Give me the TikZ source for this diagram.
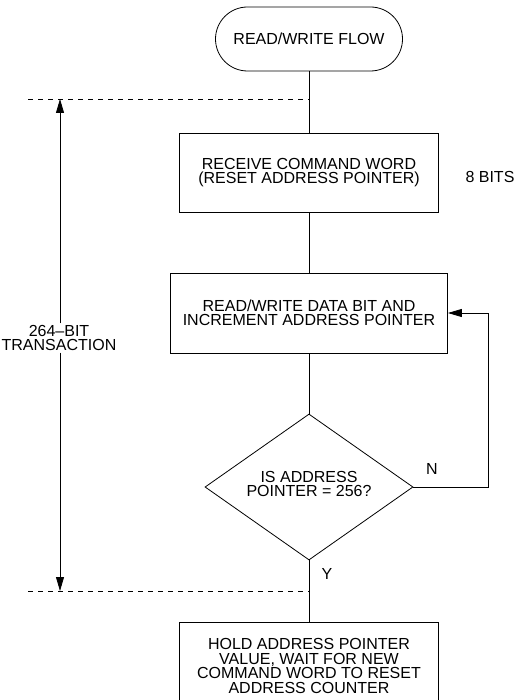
\documentclass[tikz,border=0pt]{standalone}
\usepackage{fontspec}
\setmainfont{Liberation Sans}
\usetikzlibrary{shapes.geometric,arrows.meta}
\begin{document}
\begin{tikzpicture}[x=1pt,y=-1pt,
  every node/.style={font=\fontsize{16}{14.5}\selectfont, align=center},
  line/.style={line width=0.8pt},
  box/.style={draw, line width=0.8pt, inner sep=0pt},
  term/.style={draw, line width=0.8pt, rounded corners=32pt, minimum width=187pt, minimum height=64pt, inner sep=0pt},
  dec/.style={draw, diamond, line width=0.8pt, aspect=1.42, minimum width=208pt, minimum height=146pt, inner sep=0pt},
  dashline/.style={line width=0.8pt, dash pattern=on 5pt off 5pt},
  arr/.style={line width=0.8pt, -{Triangle[length=14pt,width=8pt]}}
]
\useasboundingbox (0,0) rectangle (516,700);
\node[term] (t) at (309,39) {READ/WRITE FLOW};
\node[box, minimum width=259pt, minimum height=79pt] (b1) at (309,172.5) {RECEIVE COMMAND WORD\\(RESET ADDRESS POINTER)};
\node[anchor=west] (bits) at (462,177) {8 BITS};
\node[box, minimum width=277pt, minimum height=80pt] (b2) at (309,313) {READ/WRITE DATA BIT AND\\INCREMENT ADDRESS POINTER};
\node[dec] (d) at (309,487) {};
\node (dt) at (309,484) {IS ADDRESS\\POINTER = 256?};
\node[box, minimum width=259pt, minimum height=88pt] (b3) at (309,666) {HOLD ADDRESS POINTER\\VALUE, WAIT FOR NEW\\COMMAND WORD TO RESET\\ADDRESS COUNTER};
\node (n) at (432,469) {N};
\node (y) at (327,574) {Y};
\node[inner sep=1.5pt] (trans) at (59,338) {264--BIT\\TRANSACTION};
\coordinate (dl1) at (28,99);
\coordinate (dr1) at (309,99);
\coordinate (dl2) at (28,591);
\coordinate (dr2) at (309,591);
\coordinate (atop) at (60,99);
\coordinate (abot) at (60,591);
\coordinate (fb) at (488,0);
\draw[line] (t.south) -- (b1.north);
\draw[line] (b1.south) -- (b2.north);
\draw[line] (b2.south) -- (d.north);
\draw[line] (d.south) -- (b3.north);
\draw[arr] (d.east) -- (d.east -| fb) |- (b2.east);
\draw[dashline] (dl1) -- (dr1);
\draw[dashline] (dl2) -- (dr2);
\draw[arr] (trans.north -| atop) -- (atop);
\draw[arr] (trans.south -| abot) -- (abot);
\end{tikzpicture}
\end{document}
